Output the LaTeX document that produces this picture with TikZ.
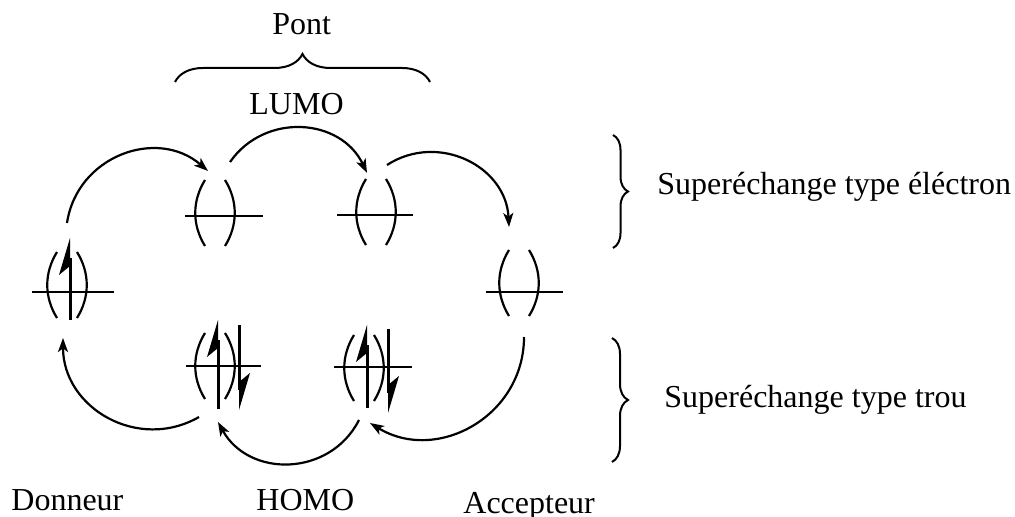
\documentclass[tikz,border=0pt]{standalone}
\usepackage{fontspec}
\setmainfont{Liberation Serif}
\usetikzlibrary{positioning,calc,arrows.meta,decorations.pathreplacing}

% orbitale : nom, centre, niveau (dy), bord gauche, bord droit
\newcommand{\orbital}[5]{%
  \node[orb] (#1) at (#2) {};
  \draw[paren] ($(#1)+(-10,-33)$) .. controls +(-13,21) and +(-13,-21) .. ($(#1)+(-10,33)$);
  \draw[paren] ($(#1)+(10,-33)$) .. controls +(13,21) and +(13,-21) .. ($(#1)+(10,33)$);
  \draw[level] ($(#1)+(#4,#3)$) -- ($(#1)+(#5,#3)$);
}
% spin : orbitale, dx, haut, bas
\newcommand{\spinup}[4]{%
  \draw[spin] ($(#1)+(#2,#4)$) -- ($(#1)+(#2,#3+20)$);
  \fill ($(#1)+(#2,#3)$) -- ++(-11,37) -- ++(11,-9) -- cycle;
}
\newcommand{\spindown}[4]{%
  \draw[spin] ($(#1)+(#2,#3)$) -- ($(#1)+(#2,#4-20)$);
  \fill ($(#1)+(#2,#4)$) -- ++(11,-37) -- ++(-11,9) -- cycle;
}

\begin{document}
\begin{tikzpicture}[x=0.5pt,y=-0.5pt,
    orb/.style = {inner sep=0pt, minimum width=20pt, minimum height=33pt},
    paren/.style = {line width=1.1pt},
    level/.style = {line width=1.1pt},
    spin/.style = {line width=1.5pt},
    hop/.style = {line width=1.1pt, -{Stealth[length=7pt,width=5pt,inset=1.8pt]}},
    accol/.style = {line width=1pt, decorate, decoration={brace, amplitude=#1}},
    lbl/.style = {inner sep=0pt, anchor=base west, font=\fontsize{16}{19}\selectfont}]
  \useasboundingbox (0,0) rectangle (1015,517);
  \orbital{don}{67,285}{7}{-35}{47}
  \orbital{lumoA}{215,213}{3}{-30}{48}
  \orbital{lumoB}{376,212}{3}{-39}{37}
  \orbital{acc}{519,283}{9}{-33}{44}
  \orbital{homoA}{215,366}{0}{-29}{46}
  \orbital{homoB}{364,368}{-1}{-30}{48}
  \spinup{don}{3}{-47}{35}
  \spinup{homoA}{3}{-46}{43}
  \spindown{homoA}{24}{-41}{44}
  \spinup{homoB}{3}{-43}{40}
  \spindown{homoB}{24}{-39}{45}
  % transferts
  \draw[hop] ($(don)+(0,-62)$) .. controls +(10,-67) and +(-51,-44) .. ($(lumoA)+(-7,-42)$);
  \draw[hop] ($(lumoA)+(15,-51)$) .. controls +(35,-50) and +(-26,-55) .. ($(lumoB)+(-9,-39)$);
  \draw[hop] ($(lumoB)+(11,-47)$) .. controls +(51,-33) and +(-3,-61) .. ($(acc)+(-10,-56)$);
  \draw[hop] ($(acc)+(5,54)$) .. controls +(0,79) and +(67,41) .. ($(homoB)+(6,55)$);
  \draw[hop] ($(homoB)+(-5,52)$) .. controls +(-29,57) and +(31,56) .. ($(homoA)+(3,56)$);
  \draw[hop] ($(homoA)+(-16,51)$) .. controls +(-61,35) and +(0,70) .. ($(don)+(-4,53)$);
  % accolades
  \draw[accol=14pt] (175,82) -- (430,82);
  \draw[accol=7.5pt] (613,135) -- (613,248);
  \draw[accol=8pt] (612,338) -- (612,462);
  \node[lbl] (pont) at (272,35) {Pont};
  \node[lbl] (lumo) at (249,115) {LUMO};
  \node[lbl] (supelec) at (657,195) {Superéchange type éléctron};
  \node[lbl] (suptrou) at (664,408) {Superéchange type trou};
  \node[lbl] (donneur) at (11,510) {Donneur};
  \node[lbl] (homo) at (256,510) {HOMO};
  \node[lbl] (accepteur) at (463,513) {Accepteur};
\end{tikzpicture}
\end{document}
